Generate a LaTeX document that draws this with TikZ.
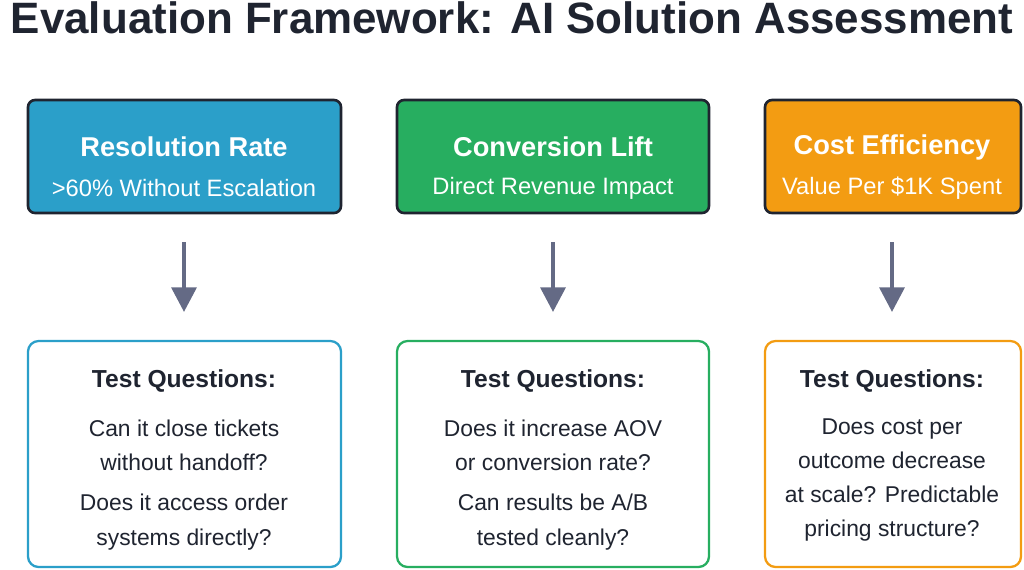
\documentclass[tikz,border=0pt]{standalone}
\usepackage{fontspec}
\setmainfont{Liberation Sans}
\usetikzlibrary{arrows.meta, positioning, calc}
\definecolor{rateblue}{HTML}{2B9FC9}
\definecolor{liftgreen}{HTML}{27AE60}
\definecolor{costorange}{HTML}{F39C12}
\definecolor{edgedark}{HTML}{1F2430}
\definecolor{arrowgray}{HTML}{646A85}
\definecolor{textdark}{HTML}{1F2430}
\tikzset{
  metric/.style={draw=edgedark, line width=1.5pt, rounded corners=4pt},
  testbox/.style={line width=1.3pt, rounded corners=6pt, fill=white},
  flow/.style={-{Triangle[length=14pt,width=14pt]}, arrowgray, line width=2.5pt},
}
\begin{document}
\begin{tikzpicture}[x=0.02cm,y=-0.02cm]
\useasboundingbox (0,0) rectangle (1024,569);

% Title
\node[font=\bfseries\fontsize{25}{28}\selectfont, text=textdark] (title) at (512,18) {Evaluation Framework: AI Solution Assessment};

% Metric boxes
\begin{scope}
\clip (0,0) rectangle (1024,569);
\draw[metric, fill=rateblue] (28,100) rectangle (341,213);
\draw[metric, fill=liftgreen] (397,100) rectangle (709,213);
\draw[metric, fill=costorange] (765,100) rectangle (1021,213);
\end{scope}
\node[font=\bfseries\fontsize{15.5}{18}\selectfont, text=white] (rate) at (184,147) {Resolution Rate};
\node[font=\fontsize{13.5}{16}\selectfont, text=white] (ratesub) at (184,188) {>60\% Without Escalation};
\node[font=\bfseries\fontsize{15.5}{18}\selectfont, text=white] (lift) at (553,147) {Conversion Lift};
\node[font=\fontsize{13.5}{16}\selectfont, text=white] (liftsub) at (553,188) {Direct Revenue Impact};
\node[font=\bfseries\fontsize{15.5}{18}\selectfont, text=white] (cost) at (892,147) {Cost Efficiency};
\node[font=\fontsize{13.5}{16}\selectfont, text=white] (costsub) at (892,188) {Value Per \$1K Spent};

% Arrows
\coordinate (a1) at (184,242); \coordinate (b1) at (184,312);
\coordinate (a2) at (553,242); \coordinate (b2) at (553,312);
\coordinate (a3) at (892,242); \coordinate (b3) at (892,312);
\foreach \i in {1,2,3} {
  \draw[flow] (a\i) -- (b\i);
}

% Test boxes
\draw[testbox, draw=rateblue] (28,341) rectangle (341,567);
\draw[testbox, draw=liftgreen] (397,341) rectangle (709,567);
\draw[testbox, draw=costorange] (765,341) rectangle (1021,567);

\node[font=\bfseries\fontsize{14}{16}\selectfont, text=textdark] (q1) at (184,381) {Test Questions:};
\node[font=\bfseries\fontsize{14}{16}\selectfont, text=textdark] (q2) at (553,381) {Test Questions:};
\node[font=\bfseries\fontsize{14}{16}\selectfont, text=textdark] (q3) at (892,381) {Test Questions:};

\node[font=\fontsize{13}{19.5}\selectfont, text=textdark, align=center] (q1a) at (184,445) {Can it close tickets\\without handoff?};
\node[font=\fontsize{13}{19.5}\selectfont, text=textdark, align=center] (q1b) at (184,522) {Does it access order\\systems directly?};
\node[font=\fontsize{13}{19.5}\selectfont, text=textdark, align=center] (q2a) at (553,445) {Does it increase AOV\\or conversion rate?};
\node[font=\fontsize{13}{19.5}\selectfont, text=textdark, align=center] (q2b) at (553,522) {Can results be A/B\\tested cleanly?};
\node[font=\fontsize{13}{19.5}\selectfont, text=textdark, align=center] (q3a) at (892,480) {Does cost per\\outcome decrease\\at scale? Predictable\\pricing structure?};
\end{tikzpicture}
\end{document}
